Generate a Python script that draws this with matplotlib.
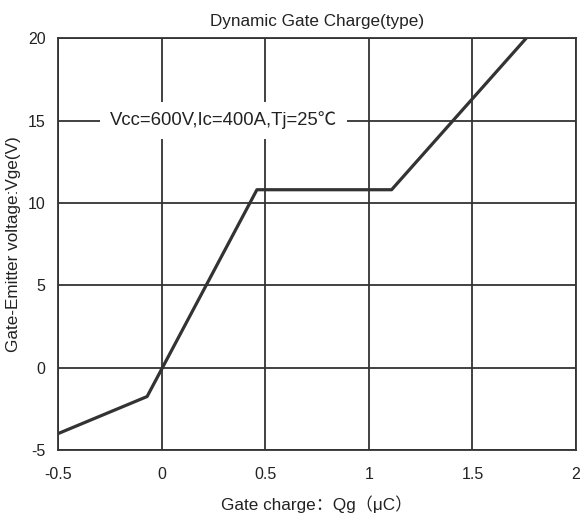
import matplotlib.pyplot as plt

# gate charge curve (uC, V)
qg = [-0.5, -0.07, 0.46, 1.11, 1.76]
vge = [-4.0, -1.75, 10.8, 10.8, 20.0]

x_ticks = [-0.5, 0, 0.5, 1, 1.5, 2]
x_labels = ['-0.5', '0', '0.5', '1', '1.5', '2']
y_ticks = [-5, 0, 5, 10, 15, 20]
y_labels = ['-5', '0', '5', '10', '15', '20']

plt.rcParams['font.family'] = ['Liberation Sans', 'Noto Sans CJK SC', 'DejaVu Sans']

fig = plt.figure(figsize=(5.87, 5.15), dpi=100)
ax = fig.add_axes([0.0988, 0.126, 0.8825, 0.8])

ax.set_xlim(-0.5, 2)
ax.set_ylim(-5, 20)
ax.set_xticks(x_ticks)
ax.set_xticklabels(x_labels)
ax.set_yticks(y_ticks)
ax.set_yticklabels(y_labels)
ax.tick_params(axis='x', length=0, labelsize=11.5, colors='#222222', pad=12)
ax.tick_params(axis='y', length=0, labelsize=11.5, colors='#222222', pad=9)

ax.grid(True, color='#333333', linewidth=1.3)
ax.set_axisbelow(True)
for s in ax.spines.values():
    s.set_color('#333333')
    s.set_linewidth(1.3)

ax.plot(qg, vge, color='#333333', linewidth=2.3, solid_capstyle='butt')

ax.text(0.3, 15, 'Vcc=600V,Ic=400A,Tj=25℃', fontsize=13.3, ha='center', va='center',
        color='#222222', bbox=dict(facecolor='white', edgecolor='none', pad=7))

ax.set_title('Dynamic Gate Charge(type)', fontsize=12.3, color='#222222', pad=9)
ax.set_xlabel('Gate charge：Qg（μC）', fontsize=12.3, color='#222222', labelpad=10)
ax.set_ylabel('Gate-Emitter voltage:Vge(V)', fontsize=12.3, color='#222222', labelpad=5)

plt.savefig('out.png')
